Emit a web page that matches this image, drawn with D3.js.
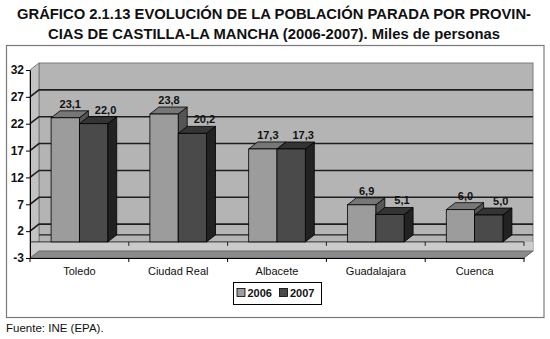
<!DOCTYPE html>
<html>
<head>
<meta charset="utf-8">
<script src="https://cdn.jsdelivr.net/npm/d3@7"></script>
<style>
  body { margin: 0; background: #fff; }
  svg { display: block; font-family: "Liberation Sans", Arial, sans-serif; }
  svg text { font-family: "Liberation Sans", Arial, sans-serif; }
</style>
</head>
<body>
<svg id="chart" width="550" height="339"></svg>
<script>
// Parados por provincia, miles de personas
const categories = ["Toledo", "Ciudad Real", "Albacete", "Guadalajara", "Cuenca"];
const seriesNames = ["2006", "2007"];
const values2006 = [23.1, 23.8, 17.3, 6.9, 6.0];
const values2007 = [22.0, 20.2, 17.3, 5.1, 5.0];
const yTickValues = [-3, 2, 7, 12, 17, 22, 27, 32];
const titleLines = [
  "GRÁFICO 2.1.13 EVOLUCIÓN DE LA POBLACIÓN PARADA POR PROVIN-",
  "CIAS DE CASTILLA-LA MANCHA (2006-2007). Miles de personas"
];
const sourceNote = "Fuente: INE (EPA).";

const seriesValues = { "2006": values2006, "2007": values2007 };
const colors = {
  "2006": { front: "#9c9c9c", top: "#777777", side: "#555555" },
  "2007": { front: "#4a4a4a", top: "#343434", side: "#222222" }
};
const labelShift = { "2006": 5, "2007": 12 };

const svg = d3.select("#chart");
const fmt = d3.formatLocale({ decimal: ",", thousands: ".", grouping: [3], currency: ["", "€"], minus: "-" }).format(".1f");

// oblique projection of the depth axis
const DX = 9, DY = -7;
const xLeft = 30, xRight = 524;
const yMin = -3, yMax = 32;

const y = d3.scaleLinear().domain([yMin, yMax]).range([258, 70]);
const x = d3.scaleBand().domain(categories).range([xLeft, xRight]);
const xs = d3.scaleBand().domain(seriesNames).range([0, x.bandwidth()]).paddingOuter(0.745);

// title
svg.append("g").selectAll("text").data(titleLines).join("text")
  .attr("x", 274).attr("y", (d, i) => 19 + i * 20)
  .attr("text-anchor", "middle")
  .attr("font-size", 14.8).attr("font-weight", "bold").attr("fill", "#111")
  .text(d => d);

// chart frame
svg.append("rect").attr("x", 6.5).attr("y", 45.5).attr("width", 537.5).attr("height", 272)
  .attr("fill", "#fff").attr("stroke", "#7a7a7a").attr("stroke-width", 1.2);

const line = d3.line();
const plot = svg.append("g");

// back wall
plot.append("rect")
  .attr("x", xLeft + DX).attr("y", y(yMax) + DY)
  .attr("width", xRight - xLeft).attr("height", y(yMin) - y(yMax))
  .attr("fill", "#b4b4b4").attr("stroke", "#7a7a7a").attr("stroke-width", 1);

// side wall
plot.append("path")
  .attr("d", line([[xLeft, y(yMax)], [xLeft + DX, y(yMax) + DY], [xLeft + DX, y(yMin) + DY], [xLeft, y(yMin)]]) + "Z")
  .attr("fill", "#c2c2c2").attr("stroke", "#7a7a7a").attr("stroke-width", 1);

// band below the zero plane
plot.append("path")
  .attr("d", line([[xLeft, y(0)], [xRight + DX, y(0)], [xRight + DX, y(yMin) + DY], [xLeft + DX, y(yMin) + DY], [xLeft, y(yMin)]]) + "Z")
  .attr("fill", "#cbcbcb");

// gridlines on the walls
const grid = yTickValues.filter(v => v > 0 && v < yMax);
plot.append("g").selectAll("path").data(grid).join("path")
  .attr("d", v => line([[xLeft, y(v)], [xLeft + DX, y(v) + DY], [xRight + DX, y(v) + DY]]))
  .attr("fill", "none").attr("stroke", "#1e1e1e").attr("stroke-width", 1.6);

// back edge of the zero plane
plot.append("path")
  .attr("d", line([[xLeft + DX, y(0) + DY], [xRight + DX, y(0) + DY]]))
  .attr("stroke", "#1e1e1e").attr("stroke-width", 1.4);

// floor
plot.append("path")
  .attr("d", line([[xLeft, y(yMin)], [xRight, y(yMin)], [xRight + DX, y(yMin) + DY], [xLeft + DX, y(yMin) + DY]]) + "Z")
  .attr("fill", "#8a8a8a").attr("stroke", "#6a6a6a").attr("stroke-width", 1);

// front edge of the zero plane with category ticks
plot.append("path")
  .attr("d", line([[xLeft, y(0)], [xRight, y(0)]]))
  .attr("stroke", "#333").attr("stroke-width", 1);
const boundaries = categories.map(c => x(c)).concat([xRight]);
plot.append("g").selectAll("path").data(boundaries.slice(1)).join("path")
  .attr("d", b => line([[b, y(0)], [b, y(0) + 4]]))
  .attr("stroke", "#222").attr("stroke-width", 1);

// bars
const bars = [];
categories.forEach((c, i) => seriesNames.forEach(s => bars.push({ c, s, v: seriesValues[s][i] })));

const barG = plot.append("g").selectAll("g").data(bars).join("g");
barG.each(function (d) {
  const g = d3.select(this);
  const bx = x(d.c) + xs(d.s), w = xs.bandwidth();
  const top = y(d.v), base = y(0);
  const col = colors[d.s];
  g.append("path")
    .attr("d", line([[bx + w, top], [bx + w + DX, top + DY], [bx + w + DX, base + DY], [bx + w, base]]) + "Z")
    .attr("fill", col.side).attr("stroke", "#000").attr("stroke-width", 0.8).attr("stroke-linejoin", "round");
  g.append("path")
    .attr("d", line([[bx, top], [bx + w, top], [bx + w + DX, top + DY], [bx + DX, top + DY]]) + "Z")
    .attr("fill", col.top).attr("stroke", "#000").attr("stroke-width", 0.8).attr("stroke-linejoin", "round");
  g.append("rect")
    .attr("x", bx).attr("y", top).attr("width", w).attr("height", base - top)
    .attr("fill", col.front).attr("stroke", "#000").attr("stroke-width", 0.8);
});

// value labels
plot.append("g").selectAll("text").data(bars).join("text")
  .attr("x", d => x(d.c) + xs(d.s) + xs.bandwidth() / 2 + labelShift[d.s])
  .attr("y", d => y(d.v) + DY - 3)
  .attr("text-anchor", "middle")
  .attr("font-size", 11).attr("font-weight", "bold").attr("fill", "#111")
  .text(d => fmt(d.v));

// value axis
const yAxis = svg.append("g").attr("transform", `translate(${xLeft},0)`)
  .call(d3.axisLeft(y).tickValues(yTickValues).tickFormat(d => String(d))
    .tickSize(4).tickSizeOuter(0).tickPadding(2));
yAxis.select(".domain").attr("stroke", "#000");
yAxis.selectAll(".tick line").attr("stroke", "#000");
yAxis.selectAll("text")
  .attr("font-family", "'Liberation Sans', Arial, sans-serif")
  .attr("font-size", 12).attr("font-weight", "bold").attr("fill", "#111");

// category axis
const xAxis = svg.append("g").attr("transform", `translate(0,${y(yMin)})`)
  .call(d3.axisBottom(x).tickSize(0).tickSizeOuter(0).tickPadding(8.7));
xAxis.select(".domain").attr("stroke", "#000");
xAxis.selectAll("text")
  .attr("font-family", "'Liberation Sans', Arial, sans-serif")
  .attr("font-size", 11).attr("fill", "#111");
xAxis.append("g").selectAll("path").data(boundaries).join("path")
  .attr("d", b => line([[b, 0], [b, 4]]))
  .attr("stroke", "#000").attr("stroke-width", 1);

// legend
const legend = svg.append("g");
legend.append("rect").attr("x", 233.5).attr("y", 282.5).attr("width", 88).attr("height", 22)
  .attr("fill", "#fff").attr("stroke", "#000").attr("stroke-width", 1);
const items = legend.selectAll("g.item").data(seriesNames).join("g")
  .attr("class", "item")
  .attr("transform", (d, i) => `translate(${237 + i * 42.5},0)`);
items.append("rect").attr("x", 0).attr("y", 288.5).attr("width", 8).attr("height", 8)
  .attr("fill", d => colors[d].front).attr("stroke", "#000").attr("stroke-width", 0.8);
items.append("text").attr("x", 10.5).attr("y", 297)
  .attr("font-size", 11).attr("font-weight", "bold").attr("fill", "#111")
  .text(d => d);

// source
svg.append("text").attr("x", 6).attr("y", 332)
  .attr("font-size", 11.5).attr("fill", "#111")
  .text(sourceNote);
</script>
</body>
</html>
